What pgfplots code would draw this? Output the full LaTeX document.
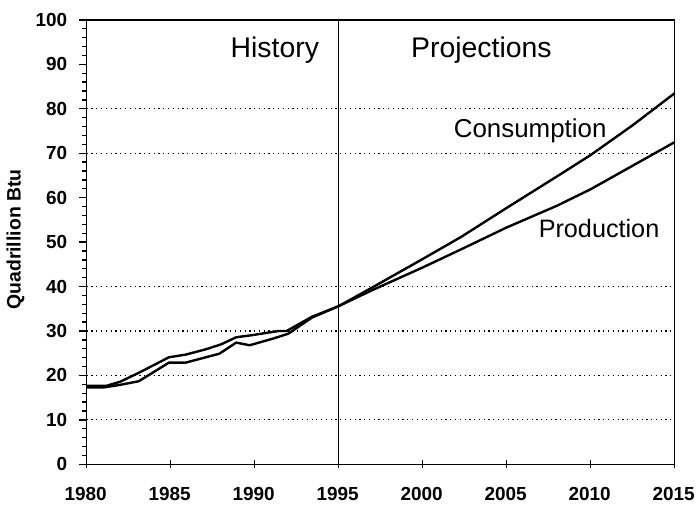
\documentclass[border=0pt]{standalone}
\usepackage{pgfplots}
\pgfplotsset{compat=1.18}
\usepackage{fontspec}
\setmainfont{Liberation Sans}
\begin{document}
\begin{tikzpicture}
\begin{axis}[
  scale only axis, width=590pt, height=446pt,
  xmin=1980, xmax=2015, ymin=0, ymax=100,
  xtick={1980,1985,...,2015}, ytick={0,10,...,100},
  minor y tick num=4,
  xtick pos=bottom, ytick pos=left,
  axis line style={line width=1.6pt},
  every tick/.style={black, line width=1.3pt},
  xtick align=center,
  ytick align=outside,
  major tick length=8pt, minor tick length=5pt,
  /pgf/number format/assume math mode=true,
  /pgf/number format/1000 sep={},
  ticklabel style={font=\bfseries\fontsize{19}{21}\selectfont},
  yticklabel style={xshift=-8pt},
  xticklabel style={yshift=-15pt, xshift=-1pt},
  ylabel={Quadrillion Btu},
  ylabel style={font=\bfseries\fontsize{19.5}{21}\selectfont, at={(axis description cs:-0.121,0.506)}, anchor=center},
  extra y ticks={10,20,30,40,70,80},
  extra y tick labels={},
  extra y tick style={grid=major},
  major grid style={black, line width=1.1pt, dash pattern=on 1.2pt off 3.6pt},
  clip=false,
]
\addplot[black, line width=1.3pt] coordinates {(1995,0)(1995,100)};
% Production
\addplot[black, line width=2.4pt, line join=round] coordinates {
(1980,17.7)(1981.2,17.7)(1982,18.6)(1983.1,20.6)(1984.9,24.1)(1985.9,24.7)(1987.1,25.9)(1988,27.0)(1988.9,28.6)(1989.9,29.1)(1991.4,30.0)(1991.9,30.0)(1993.4,33.2)(1995,35.6)
(1997,39.2)(2000,44.3)(2002.3,48.4)(2005,53.3)(2008,58.2)(2010,61.9)(2012.5,67.2)(2015,72.5)};
% Consumption
\addplot[black, line width=2.4pt, line join=round] coordinates {
(1980,17.3)(1981,17.3)(1982,17.9)(1983.1,18.7)(1984.9,22.9)(1985.9,22.9)(1987.9,24.9)(1988.9,27.4)(1989.7,26.8)(1991.1,28.3)(1992,29.4)(1993.4,33.0)(1995,35.6)
(1997,39.8)(2000,46.2)(2002.3,51.2)(2005,57.7)(2008,64.8)(2010,69.6)(2012.5,76.3)(2015,83.5)};
\node[font=\fontsize{28.5}{30}\selectfont, anchor=base] at (axis cs:1991.2,91.6) {History};
\node[font=\fontsize{28.5}{30}\selectfont, anchor=base] at (axis cs:2003.5,91.6) {Projections};
\node[font=\fontsize{26}{28}\selectfont, anchor=base] at (axis cs:2006.4,73.5) {Consumption};
\node[font=\fontsize{25.3}{27}\selectfont, anchor=base] at (axis cs:2010.5,51.1) {Production};
\end{axis}
\path (-87pt,-40pt) rectangle (611pt,466pt);
\end{tikzpicture}
\end{document}
